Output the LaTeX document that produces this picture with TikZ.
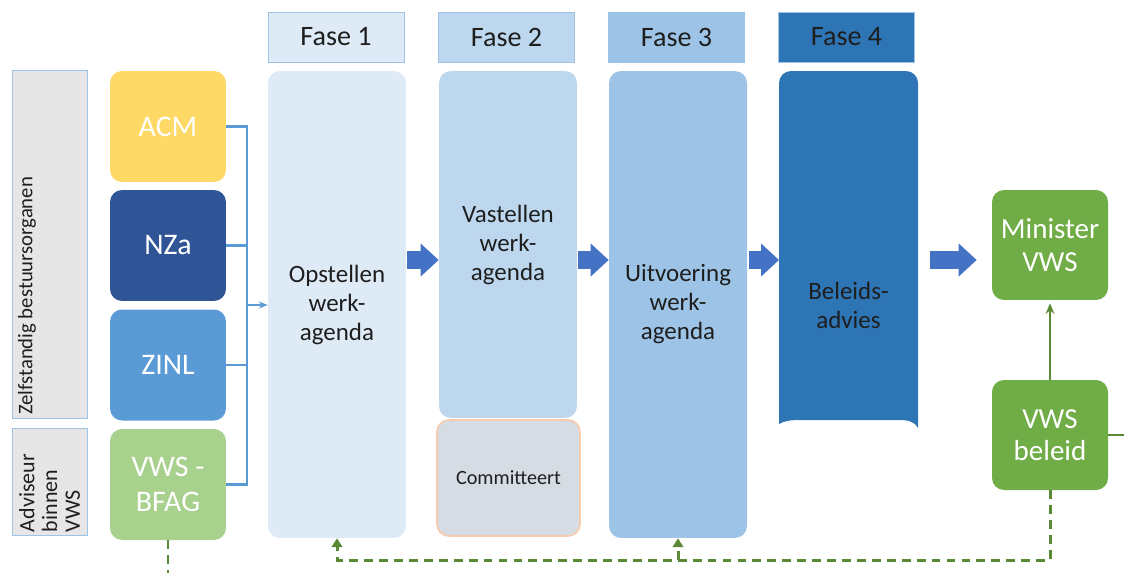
\documentclass[tikz,border=0pt]{standalone}
\usepackage{fontspec}
\setmainfont{Carlito}
\usepackage{tikz}
\usetikzlibrary{calc,positioning,arrows.meta}

\definecolor{acmc}{HTML}{FFD966}
\definecolor{nzac}{HTML}{2F5597}
\definecolor{zinlc}{HTML}{5B9BD5}
\definecolor{bfagc}{HTML}{A9D18E}
\definecolor{faseA}{HTML}{DEEBF7}
\definecolor{faseB}{HTML}{BDD7EE}
\definecolor{faseC}{HTML}{9DC3E6}
\definecolor{faseD}{HTML}{2E75B6}
\definecolor{kopedge}{HTML}{9DC3E6}
\definecolor{sidegray}{HTML}{E7E6E6}
\definecolor{commc}{HTML}{D6DCE4}
\definecolor{commedge}{HTML}{F8CBAD}
\definecolor{pijlc}{HTML}{4472C4}
\definecolor{linkc}{HTML}{5B9BD5}
\definecolor{vwsc}{HTML}{70AD47}
\definecolor{grlijn}{HTML}{5B8A37}
\definecolor{tekstc}{HTML}{1E1E1E}

\tikzset{
    orgbox/.style={rectangle, rounded corners=0.24cm, minimum width=2.32cm, minimum height=2.22cm,
        text=white, font=\fontsize{17}{20}\selectfont, align=center},
    sidebox/.style={rectangle, draw=kopedge, fill=sidegray, minimum width=1.5cm},
    kop/.style={rectangle, draw=kopedge, minimum width=2.72cm, minimum height=1cm,
        text=tekstc, font=\fontsize{16}{19}\selectfont},
    kolom/.style={rectangle, rounded corners=0.24cm, minimum width=2.76cm,
        text=tekstc, font=\fontsize{14.2}{16.5}\selectfont, align=center},
    vwsbox/.style={rectangle, rounded corners=0.24cm, fill=vwsc, minimum width=2.32cm, minimum height=2.2cm,
        text=white, font=\fontsize{16.5}{18.5}\selectfont, align=center},
    blokpijl/.style={draw=pijlc, line width=0.36cm, -{Triangle[width=0.64cm, length=0.36cm]}},
    link/.style={draw=linkc, line width=1.2pt},
    grlink/.style={draw=grlijn, line width=1.5pt},
    dashln/.style={draw=grlijn, line width=1.7pt, dash pattern=on 5pt off 3.5pt}
}

\begin{document}
\begin{tikzpicture}[x=0.02cm, y=-0.02cm]
    \useasboundingbox (0,0) rectangle (1124,572);

    % Side labels
    \node[sidebox, minimum height=6.96cm] (zbo) at (49.5,244) {};
    \node[rotate=90, anchor=north west, inner sep=0pt, text=tekstc, font=\fontsize{11.8}{13}\selectfont]
        at ($(zbo.south west)+(6,-3)$) {Zelfstandig bestuursorganen};
    \node[sidebox, minimum height=2.14cm] (adv) at (49.5,481.5) {};
    \node[rotate=90, anchor=north west, inner sep=0pt, align=left, text=tekstc, font=\fontsize{12.5}{13}\selectfont]
        at ($(adv.south west)+(7,-3)$) {Adviseur\\binnen\\VWS};

    % Organisations
    \node[orgbox, fill=acmc] (acm) at (168,126.5) {ACM};
    \node[orgbox, fill=nzac] (nza) at (168,245.5) {NZa};
    \node[orgbox, fill=zinlc] (zinl) at (168,365) {ZINL};
    \node[orgbox, fill=bfagc] (bfag) at (168,484.5) {VWS -\\BFAG};

    % Phase headers
    \node[kop, fill=faseA] (f1) at (336,37) {Fase 1};
    \node[kop, fill=faseB] (f2) at (506.5,37) {Fase 2};
    \node[kop, fill=faseC] (f3) at (676.5,37) {Fase 3};
    \node[kop, fill=faseD] (f4) at (846.5,37) {Fase 4};

    % Phase columns
    \node[kolom, fill=faseA, minimum height=9.34cm] (col1) at (337,304.5) {Opstellen\\werk-\\agenda};
    \node[kolom, fill=faseB, minimum height=6.94cm] (col2) at (508,244.5) {Vastellen\\werk-\\agenda};
    \node[kolom, fill=faseC, minimum height=9.34cm] (col3) at (678,304.5) {Uitvoering\\werk-\\agenda};
    \fill[faseD] (779,424) [rounded corners=0.24cm] -- (779,71) -- (918,71) [sharp corners] -- (918,428)
        .. controls (914,421) and (908,420) .. (898,420) -- (800,420) .. controls (790,420) and (784,421) .. (779,424);
    \node[text=tekstc, align=center, font=\fontsize{14.2}{16.5}\selectfont] (col4) at (848.5,305) {Beleids-\\advies};
    \coordinate (col4e) at (918,260);
    \node[rectangle, rounded corners=0.24cm, fill=commc, draw=commedge, line width=1pt,
        minimum width=2.86cm, minimum height=2.32cm, text=tekstc, font=\fontsize{11.5}{14}\selectfont]
        (comm) at (508.5,478) {Committeert};

    % Minister side
    \node[vwsbox] (min) at (1050,245) {Minister\\VWS};
    \node[vwsbox] (bel) at (1050,435) {VWS\\beleid};

    % Block arrows
    \coordinate (ay) at (0,260);
    \draw[blokpijl] (col1.east |- ay) ++(1,0) -- (col2.west |- ay);
    \draw[blokpijl] (col2.east |- ay) ++(1,0) -- (col3.west |- ay);
    \draw[blokpijl] (col3.east |- ay) ++(2,0) -- (col4e -| 779,0);
    \draw[blokpijl] (col4e) ++(12,0) -- ($(min.west |- ay)+(-15,0)$);

    % Links to phase 1
    \coordinate (bus) at (247,305);
    \draw[link] (acm.east) -- (acm.east -| bus) -- (bfag.east -| bus) -- (bfag.east);
    \draw[link] (nza.east) -- (nza.east -| bus);
    \draw[link] (zinl.east) -- (zinl.east -| bus);
    \draw[link, -{Stealth[length=5pt, width=4pt]}] (bus) -- (col1.west |- bus);

    % Green links
    \draw[grlink, -{Stealth[length=6pt, width=5pt]}] (bel.north) -- ($(min.south)+(0,3)$);
    \draw[grlink] (bel.east) -- ++(16,0);
    \coordinate (dbot) at (1050,560);
    \draw[dashln, -{Triangle[length=5pt, width=6pt]}] (bel.south) -- (dbot) -| (col1.south);
    \draw[dashln, -{Triangle[length=5pt, width=6pt]}] (col3.south |- dbot) -- (col3.south);
    \draw[dashln] (bfag.south) -- ++(0,34);
\end{tikzpicture}
\end{document}
